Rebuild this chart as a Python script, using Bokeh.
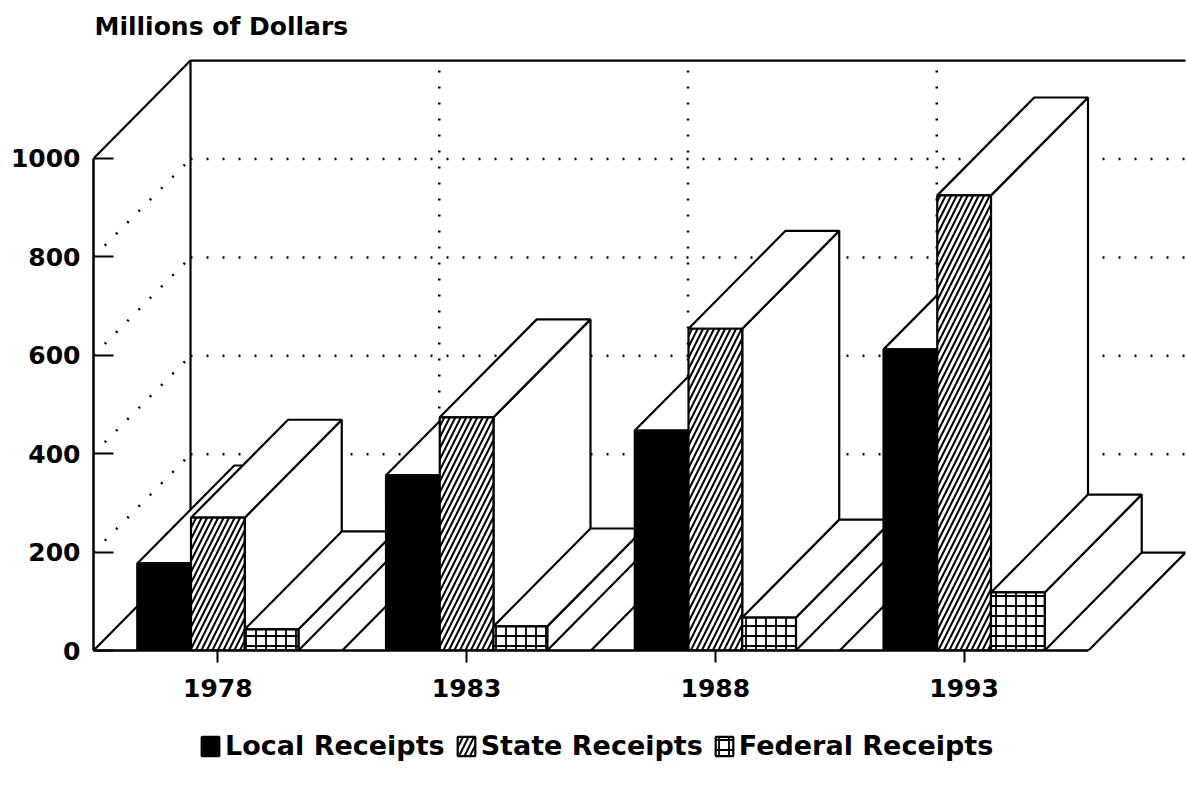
from bokeh.plotting import figure
from bokeh.models import Range1d, FixedTicker, Legend, LegendItem
from bokeh.layouts import column
from bokeh.embed import file_html
from bokeh.resources import INLINE

# ---- data ----
years = ["1978", "1983", "1988", "1993"]
local_receipts = [177, 356, 447, 612]
state_receipts = [270, 474, 654, 925]
federal_receipts = [43, 49, 67, 118]
value_ticks = [0, 200, 400, 600, 800, 1000]
series_names = ["Local Receipts", "State Receipts", "Federal Receipts"]

# ---- styles / geometry ----
styles = [
    dict(fill_color="black"),
    dict(fill_color="white", hatch_pattern="/", hatch_color="black", hatch_scale=11, hatch_weight=2),
    dict(fill_color="white", hatch_pattern="+", hatch_color="black", hatch_scale=10, hatch_weight=1.8),
]
DX = 0.39      # depth offset, category units
DY = 199.0     # depth offset, value units
BW = 0.216     # bar width, category units
X0, X1 = 0.5, 4.5
YMAX = value_ticks[-1]
LW = 2.2
FONT = "DejaVu Sans"

p = figure(width=1187, height=720, output_backend="svg", toolbar_location=None,
           x_range=Range1d(X0, X1 + DX), y_range=Range1d(0, 1219.5),
           min_border_left=93, min_border_right=2, min_border_top=50, min_border_bottom=70)
p.xgrid.visible = False
p.ygrid.visible = False
p.outline_line_color = None
p.background_fill_color = "white"

dot = dict(line_color="black", line_width=2.5, line_dash="2 14")
solid = dict(line_color="black", line_width=LW)

# back wall
p.line([X0 + DX, X0 + DX, X1 + DX + 0.05], [DY, YMAX + DY, YMAX + DY], **solid)
p.line([X0 + DX, X1 + DX], [DY, DY], **solid)
inner = value_ticks[1:-1]
p.multi_line([[X0 + DX, X1 + DX] for v in inner], [[v + DY, v + DY] for v in inner], **dot)
bounds = [k + 1.5 for k in range(len(years) - 1)]
p.multi_line([[b + DX, b + DX] for b in bounds], [[DY, YMAX + DY] for b in bounds], **dot)
# left wall
p.line([X0, X0 + DX], [YMAX, YMAX + DY], **solid)
p.line([X0, X0 + DX], [0, DY], **solid)
p.multi_line([[X0, X0 + DX] for v in inner], [[v, v + DY] for v in inner], **dot)
# floor
p.multi_line([[b, b + DX] for b in bounds + [X1]], [[0, DY] for b in bounds + [X1]], **solid)

# bars, painted left to right
series_vals = [local_receipts, state_receipts, federal_receipts]
for i, yr in enumerate(years):
    c = i + 1
    start = c - 1.5 * BW
    for j, vals in enumerate(series_vals):
        h = vals[i]
        xa = start + j * BW
        xb = xa + BW
        p.patch([xb, xb + DX, xb + DX, xb], [0, DY, h + DY, h],
                fill_color="white", line_color="black", line_width=LW)
        p.patch([xa, xb, xb + DX, xa + DX], [h, h, h + DY, h + DY],
                fill_color="white", line_color="black", line_width=LW)
        p.quad(left=[xa], right=[xb], bottom=[0], top=[h],
               line_color="black", line_width=LW, **styles[j])

# axes
p.yaxis.ticker = FixedTicker(ticks=value_ticks)
p.yaxis.bounds = (0, YMAX)
p.yaxis.major_tick_in = 20
p.yaxis.major_tick_out = 0
p.yaxis.minor_tick_line_color = None
p.yaxis.axis_line_width = 2.5
p.yaxis.major_tick_line_width = 2
p.yaxis.major_label_standoff = 13

p.xaxis.ticker = FixedTicker(ticks=[i + 1 for i in range(len(years))])
p.xaxis.major_label_overrides = {i + 1: y for i, y in enumerate(years)}
p.xaxis.bounds = (X0, X1)
p.xaxis.major_tick_in = 0
p.xaxis.major_tick_out = 12
p.xaxis.minor_tick_line_color = None
p.xaxis.axis_line_width = 2.5
p.xaxis.major_tick_line_width = 2
p.xaxis.major_label_standoff = 16
for ax in (p.xaxis, p.yaxis):
    ax.major_label_text_font = FONT
    ax.major_label_text_font_size = "25px"
    ax.major_label_text_font_style = "bold"
    ax.major_label_text_color = "black"
    ax.axis_line_color = "black"
    ax.major_tick_line_color = "black"

# title
p.title.text = "Millions of Dollars"
p.title.text_font = FONT
p.title.text_font_size = "25px"
p.title.text_font_style = "bold"
p.title.text_color = "black"
p.title.align = "left"
p.title.offset = 1
p.title.standoff = 19

# legend strip (separate figure so it is not clipped)
leg = figure(width=1187, height=68, output_backend="svg", toolbar_location=None,
             x_range=Range1d(0, 1), y_range=Range1d(0, 1),
             x_axis_location=None, y_axis_location=None, min_border=0)
leg.xgrid.visible = False
leg.ygrid.visible = False
leg.outline_line_color = None
swatches = []
for j in range(len(series_names)):
    swatches.append(leg.quad(left=[5], right=[6], bottom=[5], top=[6],
                             line_color="black", line_width=LW, **styles[j]))
legend = Legend(items=[LegendItem(label=n, renderers=[r]) for n, r in zip(series_names, swatches)],
                orientation="horizontal", location=(106, 27),
                label_text_font=FONT, label_text_font_size="27px", label_text_font_style="bold",
                label_text_color="black",
                glyph_width=22, glyph_height=24, label_standoff=4, spacing=10,
                border_line_color=None, background_fill_alpha=0, padding=0, margin=0)
leg.add_layout(legend, "center")

open("out.html", "w").write(file_html(column(p, leg), INLINE))
